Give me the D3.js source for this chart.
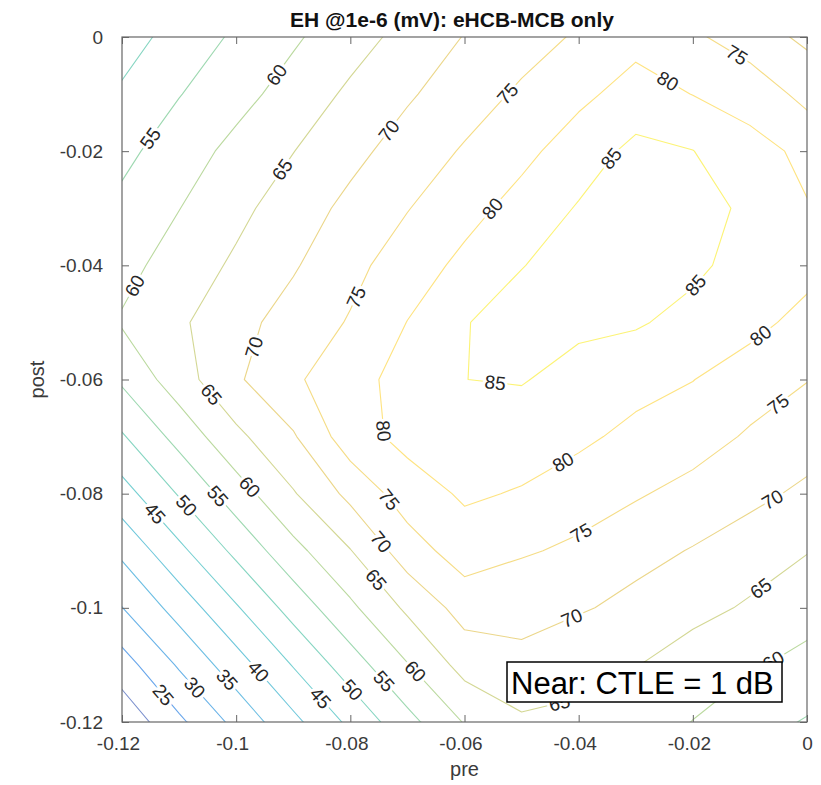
<!DOCTYPE html>
<html>
<head>
<meta charset="utf-8">
<script src="https://cdn.jsdelivr.net/npm/d3@7"></script>
<style>
  body { margin: 0; background: #fff; }
  svg { display: block; }
  text { font-family: "Liberation Sans", Arial, Helvetica, sans-serif; }
</style>
</head>
<body>
<svg id="chart" width="821" height="785"></svg>
<script>
// Sample coordinates of the sweep (pre-cursor and post-cursor tap weights)
const preGrid  = [-0.12, -0.11, -0.10, -0.09, -0.08, -0.07, -0.06, -0.05, -0.04, -0.03, -0.02, -0.01, 0];
const postGrid = [0, -0.01, -0.02, -0.03, -0.04, -0.05, -0.06, -0.07, -0.08, -0.09, -0.10, -0.11, -0.12];

// Eye height at BER 1e-6 (mV); one row per post value, columns follow preGrid
const eh = [
  [47.8, 51.9, 55.8, 59.3, 62.9, 66.6, 70.2, 72.9, 75.6, 78.5, 75.9, 72.3, 69.0],   // post  0
  [50.7, 54.8, 58.3, 62.0, 65.9, 69.4, 72.6, 75.8, 78.9, 81.9, 79.9, 78.3, 73.4],   // post -0.01
  [53.7, 57.6, 61.4, 64.9, 68.6, 72.1, 75.5, 78.7, 82.4, 86.3, 85.1, 81.4, 79.1],   // post -0.02
  [56.2, 59.9, 63.7, 67.5, 71.25, 74.8, 78.3, 81.75, 85.4, 88.0, 87.0, 84.0, 80.2], // post -0.03
  [58.4, 62.2, 65.8, 69.5, 73.6, 77.5, 81.2, 84.8, 87.5, 88.0, 86.0, 83.1, 81.6],   // post -0.04
  [60.5, 64.2, 68.4, 72.0, 75.4, 80.1, 84.7, 87.5, 86.0, 85.5, 83.5, 81.5, 78.4],   // post -0.05
  [55.8, 62.7, 69.3, 74.2, 78.2, 81.8, 84.98, 85.3, 83.3, 81.7, 80.1, 77.5, 75.15], // post -0.06
  [49.5, 56.7, 63.8, 69.5, 77.8, 81.5, 82.5, 82.5, 81.0, 78.7, 77.2, 74.4, 72.3],   // post -0.07
  [43.0, 50.4, 57.6, 64.6, 71.3, 77.5, 80.7, 79.6, 77.5, 75.5, 73.4, 71.3, 69.0],   // post -0.08
  [36.1, 43.8, 51.2, 58.4, 64.8, 72.6, 77.5, 75.6, 74.0, 71.7, 69.7, 67.4, 65.2],   // post -0.09
  [29.9, 37.0, 44.5, 51.9, 59.0, 65.9, 72.0, 71.0, 70.6, 68.5, 66.5, 64.4, 62.0],   // post -0.10
  [22.8, 30.6, 37.8, 45.3, 52.6, 59.75, 66.8, 69.2, 65.7, 65.2, 62.5, 60.6, 58.5],  // post -0.11
  [16.3, 24.0, 31.4, 38.7, 46.1, 53.4, 60.3, 64.1, 64.5, 62.5, 59.9, 57.0, 54.6]    // post -0.12
];

// Contour levels (mV)
const levels = [20, 25, 30, 35, 40, 45, 50, 55, 60, 65, 70, 75, 80, 85];

// Axis ticks
const xTicks = [-0.12, -0.1, -0.08, -0.06, -0.04, -0.02, 0];
const yTicks = [0, -0.02, -0.04, -0.06, -0.08, -0.1, -0.12];

// Inline contour labels: [level, pre, post] near where each label sits
const labelAnchors = [
  [55, -0.1147, -0.0180], [60, -0.0928, -0.0067], [65, -0.0918, -0.0233],
  [70, -0.0734, -0.0163], [75, -0.0526, -0.0098], [75, -0.0126, -0.0037],
  [80, -0.0245, -0.0079], [85, -0.0340, -0.0215], [80, -0.0559, -0.0294],
  [60, -0.1174, -0.0438], [75, -0.0792, -0.0455], [70, -0.0971, -0.0543],
  [85, -0.0196, -0.0434], [80, -0.0079, -0.0526], [85, -0.0547, -0.0613],
  [65, -0.1049, -0.0631], [75, -0.0047, -0.0648], [80, -0.0762, -0.0692],
  [80, -0.0427, -0.0745], [75, -0.0739, -0.0816], [70, -0.0060, -0.0811],
  [60, -0.0976, -0.0788], [55, -0.1034, -0.0806], [50, -0.1086, -0.0820],
  [45, -0.1142, -0.0834], [70, -0.0748, -0.0886], [75, -0.0394, -0.0872],
  [65, -0.0760, -0.0955], [65, -0.0079, -0.0969], [70, -0.0412, -0.1018],
  [60, -0.0687, -0.1112], [55, -0.0743, -0.1130], [50, -0.0797, -0.1144],
  [45, -0.0850, -0.1156], [40, -0.0962, -0.1112], [35, -0.1016, -0.1126],
  [30, -0.1072, -0.1139], [25, -0.1128, -0.1153], [65, -0.0433, -0.1170],
  [60, -0.0050, -0.1108]
];

const titleText = "EH @1e-6 (mV): eHCB-MCB only";
const noteText = "Near: CTLE = 1 dB";

// ---- layout ----
const plot = { left: 122, right: 807, top: 37, bottom: 722 };
const svg = d3.select("#chart");

const x = d3.scaleLinear().domain([-0.12, 0]).range([plot.left, plot.right]);
const y = d3.scaleLinear().domain([-0.12, 0]).range([plot.bottom, plot.top]);

// d3.contours puts sample i at coordinate i + 0.5
const colToPre = d3.scaleLinear().domain([0.5, preGrid.length - 0.5]).range([preGrid[0], preGrid[preGrid.length - 1]]);
const rowToPost = d3.scaleLinear().domain([0.5, postGrid.length - 0.5]).range([postGrid[0], postGrid[postGrid.length - 1]]);
const toPx = p => [x(colToPre(p[0])), y(rowToPost(p[1]))];

// parula-like colormap
const parula = d3.scaleLinear()
  .domain([0, 0.125, 0.25, 0.375, 0.5, 0.625, 0.75, 0.875, 1])
  .range(["#352a87", "#046ce0", "#0a91d2", "#0facbb", "#3fbd8d", "#97bf57", "#debb3b", "#fdcb2e", "#f9fb0e"])
  .interpolate(d3.interpolateRgb);
const zExt = d3.extent(eh.flat());
const levelColor = v => parula((v - zExt[0]) / (zExt[1] - zExt[0]));

const contours = d3.contours()
  .size([preGrid.length, postGrid.length])
  .thresholds(levels)(eh.flat());

const projection = d3.geoTransform({
  point(px, py) { const q = toPx([px, py]); this.stream.point(q[0], q[1]); }
});
const path = d3.geoPath(projection);

svg.append("defs").append("clipPath").attr("id", "plotClip")
  .append("rect")
  .attr("x", plot.left).attr("y", plot.top)
  .attr("width", plot.right - plot.left).attr("height", plot.bottom - plot.top);

// contour lines (thin, so they read pale on white)
svg.append("g").attr("clip-path", "url(#plotClip)")
  .selectAll("path").data(contours).join("path")
  .attr("d", path)
  .attr("fill", "none")
  .attr("stroke", d => levelColor(d.value))
  .attr("stroke-opacity", 0.6)
  .attr("stroke-width", 1.1)
  .attr("stroke-linejoin", "round");

// segments of each level that lie inside the plot, in pixels
const inside = p => p[0] >= plot.left - 0.5 && p[0] <= plot.right + 0.5 && p[1] >= plot.top - 0.5 && p[1] <= plot.bottom + 0.5;
const segsByLevel = new Map();
contours.forEach(c => {
  const segs = [];
  c.coordinates.forEach(poly => poly.forEach(ring => {
    for (let k = 1; k < ring.length; k++) {
      const a = toPx(ring[k - 1]), b = toPx(ring[k]);
      if (inside(a) && inside(b) && (a[0] !== b[0] || a[1] !== b[1])) segs.push([a, b]);
    }
  }));
  segsByLevel.set(c.value, segs);
});

function snap(level, px, py) {
  let best = null;
  (segsByLevel.get(level) || []).forEach(([a, b]) => {
    const dx = b[0] - a[0], dy = b[1] - a[1];
    const L2 = dx * dx + dy * dy;
    let t = ((px - a[0]) * dx + (py - a[1]) * dy) / L2;
    t = Math.max(0, Math.min(1, t));
    const qx = a[0] + t * dx, qy = a[1] + t * dy;
    const d2 = (qx - px) ** 2 + (qy - py) ** 2;
    if (!best || d2 < best.d2) best = { d2, qx, qy, ang: Math.atan2(dy, dx) * 180 / Math.PI };
  });
  return best;
}

const labelG = svg.append("g").attr("clip-path", "url(#plotClip)");
labelAnchors.forEach(([lev, pre, post]) => {
  const s = snap(lev, x(pre), y(post));
  if (!s) return;
  let a = s.ang;
  if (a > 90) a -= 180;
  if (a < -90) a += 180;
  labelG.append("text")
    .attr("transform", `translate(${s.qx},${s.qy}) rotate(${a})`)
    .attr("text-anchor", "middle")
    .attr("dy", "0.35em")
    .attr("font-size", 19)
    .attr("fill", "#262626")
    .attr("stroke", "#fff")
    .attr("stroke-width", 6)
    .attr("stroke-linejoin", "round")
    .attr("paint-order", "stroke")
    .text(lev);
});

// ---- axes (box with inward ticks on all sides) ----
const fmt = d => String(+d.toFixed(2));
const axisColor = "#666";

const gx = svg.append("g").attr("transform", `translate(0,${plot.bottom})`)
  .call(d3.axisBottom(x).tickValues(xTicks).tickSize(-7).tickPadding(15).tickFormat(fmt));
gx.selectAll("text").attr("dx", d => d < 0 ? -4 : 0);
const gy = svg.append("g").attr("transform", `translate(${plot.left},0)`)
  .call(d3.axisLeft(y).tickValues(yTicks).tickSize(-7).tickPadding(19).tickFormat(fmt));
const gt = svg.append("g").attr("transform", `translate(0,${plot.top})`)
  .call(d3.axisTop(x).tickValues(xTicks).tickSize(-7).tickFormat(""));
const gr = svg.append("g").attr("transform", `translate(${plot.right},0)`)
  .call(d3.axisRight(y).tickValues(yTicks).tickSize(-7).tickFormat(""));

[gx, gy, gt, gr].forEach(g => {
  g.select(".domain").remove();
  g.selectAll(".tick line").attr("stroke", axisColor).attr("stroke-width", 1);
  g.selectAll(".tick text").attr("font-size", 19).attr("fill", "#3a3a3a")
    .attr("font-family", "\"Liberation Sans\", Arial, Helvetica, sans-serif");
});

svg.append("rect")
  .attr("x", plot.left).attr("y", plot.top)
  .attr("width", plot.right - plot.left).attr("height", plot.bottom - plot.top)
  .attr("fill", "none").attr("stroke", axisColor).attr("stroke-width", 1.2);

// axis titles
svg.append("text")
  .attr("x", (plot.left + plot.right) / 2).attr("y", 776)
  .attr("text-anchor", "middle").attr("font-size", 20).attr("fill", "#3a3a3a")
  .text("pre");
svg.append("text")
  .attr("transform", `translate(44,${(plot.top + plot.bottom) / 2}) rotate(-90)`)
  .attr("text-anchor", "middle").attr("font-size", 20).attr("fill", "#3a3a3a")
  .text("post");

// title
svg.append("text")
  .attr("x", 452).attr("y", 27)
  .attr("text-anchor", "middle").attr("font-size", 21).attr("font-weight", "bold").attr("fill", "#111")
  .text(titleText);

// annotation box
const note = svg.append("g");
note.append("rect")
  .attr("x", 507).attr("y", 662).attr("width", 275).attr("height", 40)
  .attr("fill", "#fff").attr("stroke", "#000").attr("stroke-width", 1.5);
note.append("text")
  .attr("x", 511).attr("y", 694)
  .attr("font-size", 31).attr("fill", "#000")
  .text(noteText);
</script>
</body>
</html>
